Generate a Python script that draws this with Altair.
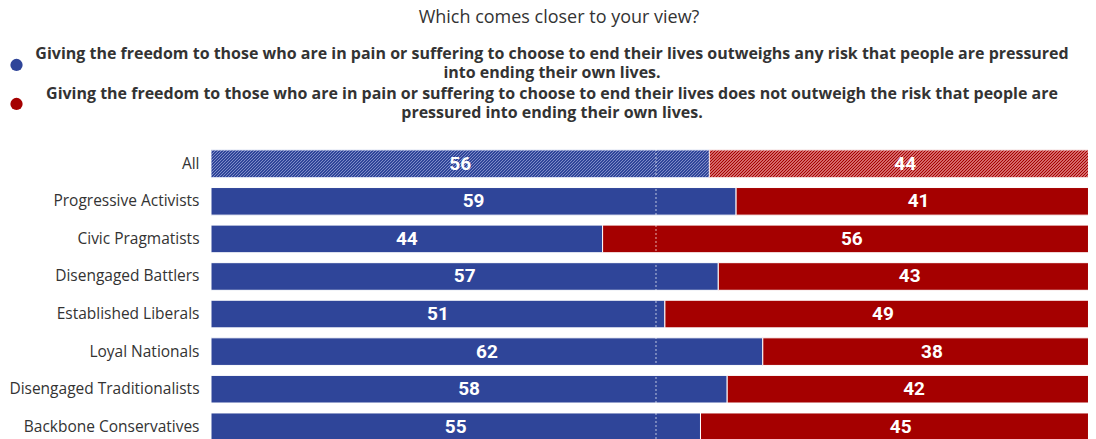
import altair as alt
import pandas as pd

categories = ["All", "Progressive Activists", "Civic Pragmatists", "Disengaged Battlers",
              "Established Liberals", "Loyal Nationals", "Disengaged Traditionalists",
              "Backbone Conservatives"]
outweighs = [56, 59, 44, 57, 51, 62, 58, 55]
not_outweigh = [44, 41, 56, 43, 49, 38, 42, 45]
midpoint = [50]

title_text = "Which comes closer to your view?"
legend_blue = ["Giving the freedom to those who are in pain or suffering to choose to end their lives outweighs any risk that people are pressured",
               "into ending their own lives."]
legend_red = ["Giving the freedom to those who are in pain or suffering to choose to end their lives does not outweigh the risk that people are",
              "pressured into ending their own lives."]

BLUE = "#2f4599"
RED = "#a50000"
BLUE_L = "#7f8cc8"
RED_L = "#d46a6a"
FONT = "Open Sans"

# layout (style)
STEP = 37.57
PAD_INNER = 0.265
PX_PER_UNIT = 8.9
W = 877                      # plot width so the whole svg is 1080 px wide
XMAX = W / PX_PER_UNIT       # bars run past the right edge and are clipped
H = STEP * len(categories)
BAR_H = STEP * (1 - PAD_INNER)

rows = []
for c, b, r in zip(categories, outweighs, not_outweigh):
    rows.append({"cat": c, "side": "outweighs", "start": 0, "end": b, "mid": b / 2, "label": str(b)})
    rows.append({"cat": c, "side": "not", "start": b, "end": b + r, "mid": b + r / 2, "label": str(r)})
df = pd.DataFrame(rows)
one = pd.DataFrame({"k": [0]})
mid_df = pd.DataFrame({"m": midpoint})


def stripes(c1, c2, width_px, height_px, period=3.0):
    total = width_px + height_px
    r = height_px / width_px
    k = (1 + r) / (1 + r * r)
    dt = period / total
    stops = []
    t = 0.0
    while t < 1.0 - 1e-9:
        a = min(t + dt * 0.5, 1.0)
        b = min(t + dt, 1.0)
        stops += [{"offset": round(t, 5), "color": c1}, {"offset": round(a, 5), "color": c1},
                  {"offset": round(a, 5), "color": c2}, {"offset": round(b, 5), "color": c2}]
        t += dt
    return {"gradient": "linear", "x1": 0, "y1": 0, "x2": round(k, 5), "y2": round(k * r, 5), "stops": stops}


yenc = alt.Y("cat:N", sort=categories,
             scale=alt.Scale(paddingInner=PAD_INNER, paddingOuter=PAD_INNER / 2),
             axis=alt.Axis(title=None, ticks=False, domain=False, labelFontSize=15.5, labelLimit=0,
                           labelFont=FONT, labelColor="#333333", labelPadding=12))
xscale = alt.Scale(domain=[0, XMAX], nice=False, zero=True)

base = alt.Chart(df)

bars = base.transform_filter(alt.datum.cat != "All").mark_bar(
    clip=True, stroke="white", strokeWidth=1).encode(
    y=yenc,
    x=alt.X("start:Q", scale=xscale, axis=None),
    x2="end:Q",
    color=alt.Color("side:N", scale=alt.Scale(domain=["outweighs", "not"], range=[BLUE, RED]), legend=None),
)

all_blue = base.transform_filter((alt.datum.cat == "All") & (alt.datum.side == "outweighs")).mark_bar(
    clip=True, stroke="#dfe3f3", strokeWidth=1,
    fill=stripes(BLUE, BLUE_L, outweighs[0] * PX_PER_UNIT, BAR_H)).encode(
    y=yenc, x=alt.X("start:Q", scale=xscale, axis=None), x2="end:Q")

all_red = base.transform_filter((alt.datum.cat == "All") & (alt.datum.side == "not")).mark_bar(
    clip=True, stroke="#f3dede", strokeWidth=1,
    fill=stripes(RED, RED_L, not_outweigh[0] * PX_PER_UNIT, BAR_H)).encode(
    y=yenc, x=alt.X("start:Q", scale=xscale, axis=None), x2="end:Q")

midline = alt.Chart(mid_df).mark_rule(stroke="white", strokeWidth=1, strokeDash=[2, 2], opacity=0.7).encode(
    x=alt.X("m:Q", scale=xscale, axis=None))

labels = base.mark_text(color="white", font="Roboto", fontWeight="bold", fontSize=19,
                        baseline="middle", align="center").encode(
    y=yenc, x=alt.X("mid:Q", scale=xscale, axis=None), text="label:N")

CX = 341
title = alt.Chart(one).mark_text(text=title_text, font=FONT, fontSize=18, color="#333333",
                                 align="center", baseline="alphabetic").encode(
    x=alt.value(348), y=alt.value(-121.5))

leg_b_text = alt.Chart(one).mark_text(text=legend_blue, font=FONT, fontWeight="bold", fontSize=16,
                                      lineHeight=19.5, color="#333333", align="center",
                                      baseline="top").encode(
    x=alt.value(CX), y=alt.value(-99.1))
leg_r_text = alt.Chart(one).mark_text(text=legend_red, font=FONT, fontWeight="bold", fontSize=16,
                                      lineHeight=19.5, color="#333333", align="center",
                                      baseline="top").encode(
    x=alt.value(CX), y=alt.value(-59.3))

dot_b = alt.Chart(one).mark_point(filled=True, shape="circle", size=150, color=BLUE, opacity=1).encode(
    x=alt.value(-194.5), y=alt.value(-80))
dot_r = alt.Chart(one).mark_point(filled=True, shape="circle", size=150, color=RED, opacity=1).encode(
    x=alt.value(-194.5), y=alt.value(-41))

chart = alt.layer(bars, all_blue, all_red, midline, labels, title, leg_b_text, leg_r_text,
                  dot_b, dot_r).properties(
    width=W, height=H,
    autosize=alt.AutoSizeParams(type="none"),
    padding={"left": 203, "top": 137, "right": 0, "bottom": 0},
).configure_view(stroke=None)

chart.save("out.html", embed_options={"renderer": "svg", "actions": False})
